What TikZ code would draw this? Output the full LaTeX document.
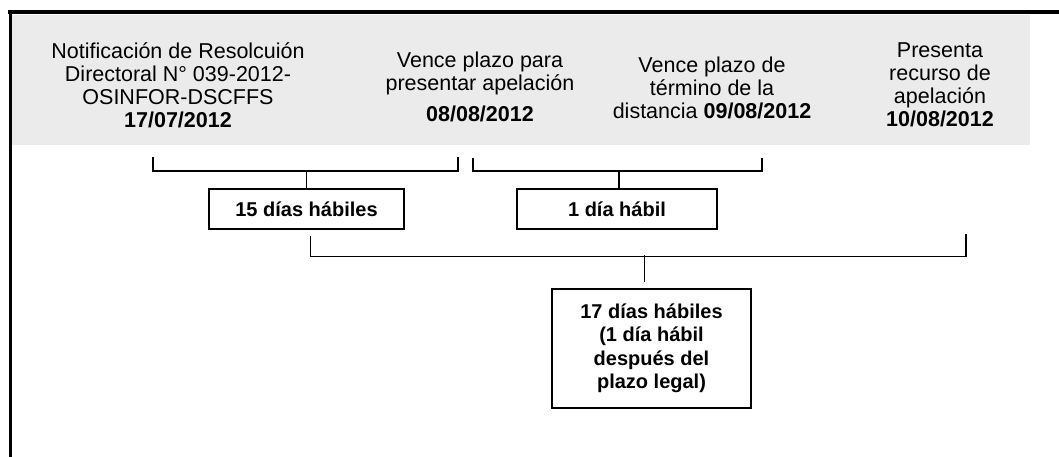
\documentclass[tikz,border=0pt]{standalone}
\usepackage{fontspec}
\setmainfont{Liberation Sans}
\usetikzlibrary{calc,positioning}
\tikzset{
  fecha/.style={
    align=center,
    inner sep=0pt,
    font=\fontsize{21.5}{23}\selectfont},
  caja/.style={
    rectangle,
    draw=black, line width=1.6pt,
    minimum width=197pt,
    minimum height=40pt,
    align=center,
    font=\bfseries\fontsize{20}{23.5}\selectfont},
  llave/.style={draw, line width=1.3pt},
}
\begin{document}
\begin{tikzpicture}[x=1pt,y=-1pt]
    \useasboundingbox (0,0) rectangle (1059,457);
    % fondo punteado y marco
    \fill[black!8] (12,15) rectangle (1030,145);
    \draw[line width=3.5pt] (8,12) -- (1059,12);
    \draw[line width=3pt] (10,12) -- (10,457);

    \node [fecha, anchor=north] (notif) at (178,42) {Notificación de Resolcuión\\Directoral N° 039-2012-\\OSINFOR-DSCFFS\\\textbf{17/07/2012}};
    \node [fecha, anchor=north] (vence1) at (480,52) {Vence plazo para\\presentar apelación\\[8pt]\textbf{08/08/2012}};
    \node [fecha, anchor=north] (vence2) at (712,57) {Vence plazo de\\término de la\\distancia \textbf{09/08/2012}};
    \node [fecha, anchor=north] (presenta) at (940,43) {Presenta\\recurso de\\apelación\\\textbf{10/08/2012}};

    \node [caja, minimum width=195pt] (caja15) at (306.5,209) {15 días hábiles};
    \node [caja, minimum width=200pt] (caja1) at (617,209) {1 día hábil};
    \node [caja, minimum width=199pt, minimum height=119pt] (caja17) at (651.5,348.5) {17 días hábiles\\(1 día hábil\\después del\\plazo legal)};

    \coordinate (l1a) at (153,157);
    \coordinate (l1b) at (458,157);
    \coordinate (l2a) at (473,158);
    \coordinate (l2b) at (762,158);
    \coordinate (fin) at (966,234);

    \draw[llave] (l1a) |-+(0,14)-| (l1b);
    \draw[llave] (caja15.north) -- +(0,-18);
    \draw[llave] (l2a) |-+(0,13)-| (l2b);
    \draw[llave] ([xshift=2pt]caja1.north) -- +(0,-18);
    \draw[llave] ([xshift=4pt,yshift=-6pt]caja15.south) -- ++(0,21) -| (fin);
    \draw[llave] ([xshift=-7pt,yshift=6pt]caja17.north) -- +(0,-27);

\end{tikzpicture}
\end{document}
